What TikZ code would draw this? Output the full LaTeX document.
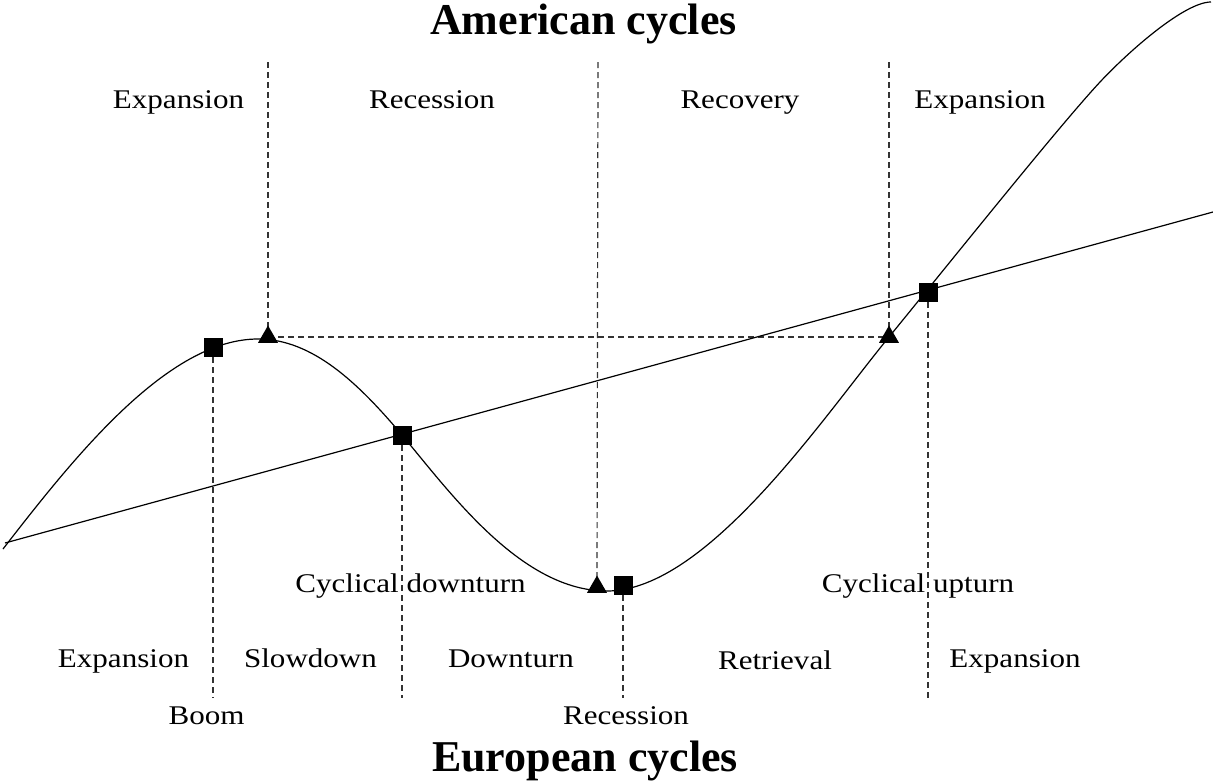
\documentclass[tikz,border=0pt]{standalone}
\usepackage{fontspec}
\setmainfont{Liberation Serif}
\newfontfamily\lblfont[FakeStretch=1.15]{Liberation Serif}
\usetikzlibrary{shapes.geometric}
\begin{document}
\begin{tikzpicture}[x=1pt,y=-1pt,
  solidline/.style={line width=1.2pt,black},
  dsh/.style={line width=1.2pt,black!80,dash pattern=on 6pt off 4pt},
  sq/.style={rectangle,fill=black,draw=none,minimum size=19pt,inner sep=0pt},
  tri/.style={regular polygon,regular polygon sides=3,fill=black,draw=none,minimum size=23pt,inner sep=0pt},
  lbl/.style={anchor=base,inner sep=0pt,font=\lblfont\fontsize{27}{32}\selectfont},
  ttl/.style={anchor=base,inner sep=0pt,font=\fontsize{44}{50}\selectfont\bfseries}]
\useasboundingbox (0,0) rectangle (1213,782);

% marker positions
\coordinate (s1) at (213,347);
\coordinate (s2) at (402,435);
\coordinate (s3) at (623,585);
\coordinate (s4) at (928,292);
\coordinate (t1) at (268,337);
\coordinate (t2) at (597,587);
\coordinate (t3) at (889,337);

% free ends of dashed guides
\coordinate (t1top) at (268,62);
\coordinate (t2top) at (598,62);
\coordinate (t3top) at (889,62);
\coordinate (s1bot) at (213,698);
\coordinate (s2bot) at (402,698);
\coordinate (s3bot) at (623,698);
\coordinate (s4bot) at (928,698);

% dashed guides
\draw[dsh] (t1top) -- (t1);
\draw[dsh] (t2top) -- (t2);
\draw[dsh] (t3top) -- (t3);
\draw[dsh] (t1) -- (t3);
\draw[dsh] (s1) -- (s1bot);
\draw[dsh] (s2) -- (s2bot);
\draw[dsh] (s3) -- (s3bot);
\draw[dsh] (s4) -- (s4bot);

% trend line
\coordinate (lstart) at (5,543);
\coordinate (lend) at (1213,212);
\draw[solidline] (lstart) -- (lend);

% cycle curve
\coordinate (c0) at (3,549);
\coordinate (cpeak) at (258,339);
\coordinate (ctrough) at (607,591);
\coordinate (cup) at (1100,82);
\coordinate (ctop) at (1211,2);
\draw[solidline] (c0) .. controls (75,456) and (168,339) .. (cpeak)
  .. controls (313,339) and (359,384) .. (s2)
  .. controls (452,495) and (522,591) .. (ctrough)
  .. controls (707,591) and (824,416) .. (t3)
  .. controls (960,250) and (1060,125) .. (cup)
  .. controls (1130,50) and (1185,2) .. (ctop);

% marker nodes
\node[sq] (S1) at (s1) {};
\node[sq] (S2) at (s2) {};
\node[sq] (S3) at (s3) {};
\node[sq] (S4) at (s4) {};
\node[tri] (T1) at (t1) {};
\node[tri] (T2) at (t2) {};
\node[tri] (T3) at (t3) {};

% titles
\node[ttl] (am) at (583.5,34) {American cycles};
\node[ttl] (eu) at (585,771) {European cycles};

% American labels
\node[lbl] (a1) at (178.5,108) {Expansion};
\node[lbl] (a2) at (432,108) {Recession};
\node[lbl] (a3) at (740,108) {Recovery};
\node[lbl] (a4) at (980,108) {Expansion};

% turning point labels
\node[lbl] (cd) at (410.5,592) {Cyclical downturn};
\node[lbl] (cu) at (918,592) {Cyclical upturn};

% European labels
\node[lbl] (e1) at (123.5,667) {Expansion};
\node[lbl] (e2) at (310.5,667) {Slowdown};
\node[lbl] (e3) at (511,667) {Downturn};
\node[lbl] (e4) at (775,669) {Retrieval};
\node[lbl] (e5) at (1015,667) {Expansion};
\node[lbl] (e6) at (206.5,724) {Boom};
\node[lbl] (e7) at (626,724) {Recession};
\end{tikzpicture}
\end{document}
